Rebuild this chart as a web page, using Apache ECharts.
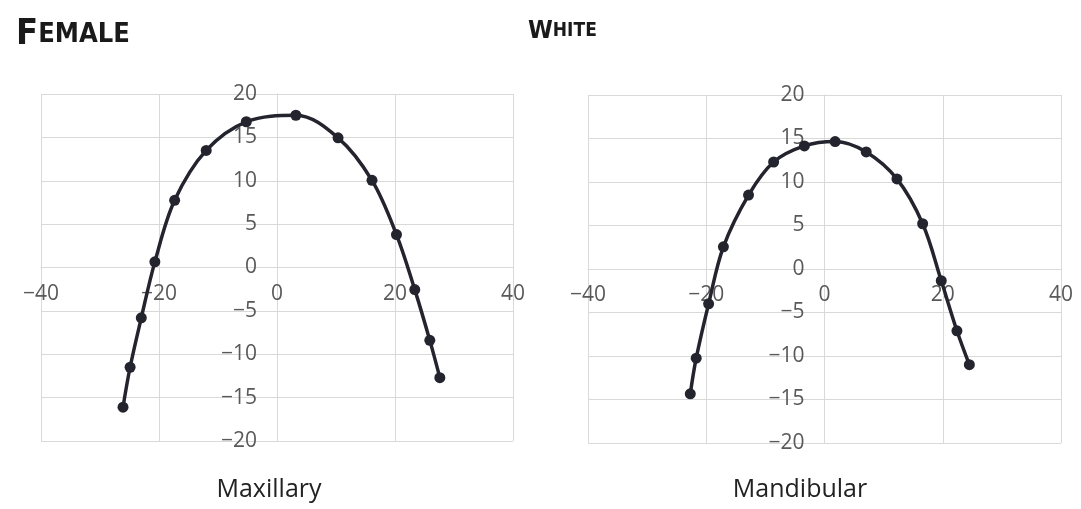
<!DOCTYPE html>
<html>
<head>
<meta charset="utf-8">
<script src="https://cdn.jsdelivr.net/npm/echarts@6/dist/echarts.min.js"></script>
<style>
html,body{margin:0;padding:0;background:#fff;}
#chart{width:1081px;height:509px;}
</style>
</head>
<body>
<div id="chart"></div>
<script>
// Maxillary arch (female, white)
var maxX = [-26.1, -24.9, -23.0, -20.7, -17.35, -12.0, -5.2, 3.2, 10.35, 16.1, 20.25, 23.35, 25.9, 27.6];
var maxY = [-16.1, -11.5, -5.8, 0.65, 7.75, 13.5, 16.8, 17.55, 14.95, 10.05, 3.8, -2.55, -8.4, -12.7];
// Mandibular arch (female, white)
var manX = [-22.7, -21.7, -19.6, -17.1, -12.85, -8.6, -3.4, 1.8, 7.05, 12.25, 16.6, 19.75, 22.4, 24.5];
var manY = [-14.35, -10.25, -4.0, 2.55, 8.5, 12.3, 14.15, 14.65, 13.45, 10.35, 5.2, -1.35, -7.1, -11.0];

var xTicks = {min: -40, max: 40, interval: 20};
var yTicks = {min: -20, max: 20, interval: 5};

function pairs(xs, ys){ return xs.map(function(x, i){ return [x, ys[i]]; }); }

var labelFont = 'Open Sans, Noto Sans, sans-serif';
var gridColor = '#d9d9d9';
var lineColor = '#24242f';
function fmt(v){ return String(v).replace('-', '\u2212'); }

function xAxis(idx, off){
  return {
    type: 'value', gridIndex: idx, min: xTicks.min, max: xTicks.max, interval: xTicks.interval,
    position: 'bottom', offset: off || 0,
    axisLine: {show: true, onZero: false, lineStyle: {color: gridColor, width: 1}},
    axisTick: {show: false},
    splitLine: {show: true, lineStyle: {color: gridColor, width: 1}},
    axisLabel: {color: '#595959', fontSize: 21, fontFamily: labelFont, margin: 16, formatter: fmt}
  };
}
function yAxis(idx, off){
  return {
    type: 'value', gridIndex: idx, min: yTicks.min, max: yTicks.max, interval: yTicks.interval,
    position: 'left', offset: off || 0,
    axisLine: {show: true, onZero: false, lineStyle: {color: gridColor, width: 1}},
    axisTick: {show: false},
    splitLine: {show: true, lineStyle: {color: gridColor, width: 1}},
    axisLabel: {color: '#595959', fontSize: 21, fontFamily: labelFont, margin: 20, formatter: fmt}
  };
}
function series(idx, data){
  return {
    type: 'line', xAxisIndex: idx, yAxisIndex: idx, data: data, smooth: 0.35,
    symbol: 'circle', symbolSize: 11, showSymbol: true,
    lineStyle: {color: lineColor, width: 3.5},
    itemStyle: {color: lineColor},
    animation: false, z: 5
  };
}

var titleFont = 'Liberation Sans Narrow, DejaVu Sans Condensed, Liberation Sans, sans-serif';
var chart = echarts.init(document.getElementById('chart'), null, {renderer: 'canvas'});
chart.setOption({
  animation: false,
  backgroundColor: '#ffffff',
  title: [
    {text: '{a|F}{b|EMALE}', left: 11, top: 12,
      textStyle: {rich: {
        a: {fontSize: 36, fontWeight: 'bold', color: '#1a1a1a', fontFamily: titleFont},
        b: {fontSize: 27, fontWeight: 'bold', color: '#1a1a1a', fontFamily: titleFont}
      }}},
    {text: '{a|W}{b|HITE}', left: 523, top: 14,
      textStyle: {rich: {
        a: {fontSize: 25, fontWeight: 'bold', color: '#1a1a1a', fontFamily: titleFont},
        b: {fontSize: 19, fontWeight: 'bold', color: '#1a1a1a', fontFamily: titleFont}
      }}},
    {text: 'Maxillary', left: 264, top: 472, textAlign: 'center',
      textStyle: {fontSize: 25, fontWeight: 'normal', color: '#222', fontFamily: labelFont}},
    {text: 'Mandibular', left: 795, top: 472, textAlign: 'center',
      textStyle: {fontSize: 25, fontWeight: 'normal', color: '#222', fontFamily: labelFont}}
  ],
  grid: [
    {left: 41, right: 568, top: 94, bottom: 68, containLabel: false, outerBoundsMode: 'none'},
    {left: 588, right: 20, top: 95, bottom: 66, containLabel: false, outerBoundsMode: 'none'}
  ],
  xAxis: [xAxis(0), xAxis(1)],
  yAxis: [yAxis(0), yAxis(1)],
  series: [series(0, pairs(maxX, maxY)), series(1, pairs(manX, manY))]
});

// Move each axis (line + labels) onto the other axis's zero, using the library's own scales.
var xs = [], ys = [];
[0, 1].forEach(function(i){
  var origin = chart.convertToPixel({gridIndex: i}, [0, 0]);
  var corner = chart.convertToPixel({gridIndex: i}, [xTicks.min, yTicks.min]);
  xs.push(xAxis(i, -(corner[1] - origin[1])));
  ys.push(yAxis(i, -(origin[0] - corner[0])));
});
chart.setOption({xAxis: xs, yAxis: ys});
</script>
</body>
</html>
